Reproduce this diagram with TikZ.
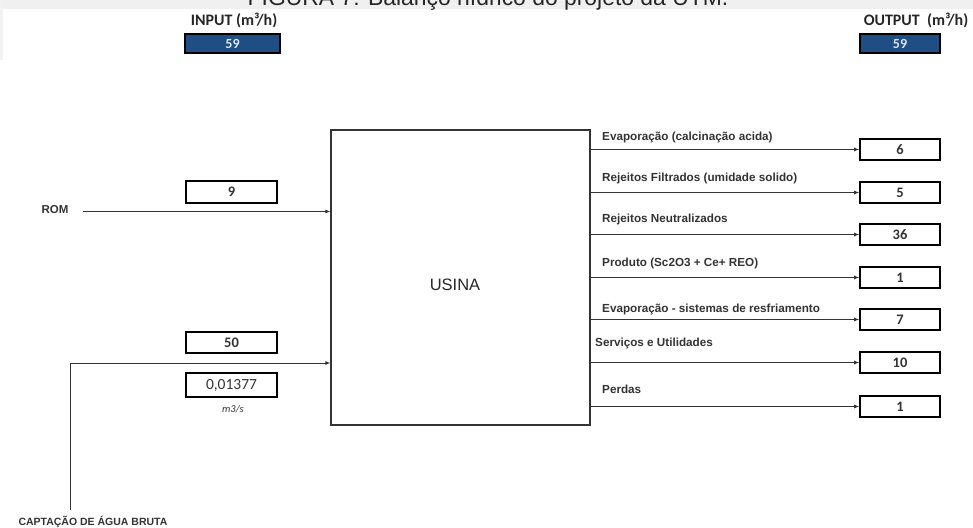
\documentclass[tikz,border=0pt]{standalone}
\usepackage{fontspec}
\setmainfont{Liberation Sans}
\newfontfamily\calib{Carlito}
\usetikzlibrary{arrows.meta}
\definecolor{navyfill}{HTML}{1F4E85}
\definecolor{paletxt}{HTML}{DCE6F2}
\definecolor{linegray}{HTML}{333333}
\tikzset{
  valbox/.style={draw=black, line width=1.6pt, inner sep=0pt, minimum width=91pt, minimum height=22pt,
    font=\calib\bfseries\fontsize{14.5}{15}\selectfont, text=black!80},
  outbox/.style={valbox, minimum width=80pt, minimum height=21pt},
  headbox/.style={draw=black, line width=1.5pt, fill=navyfill, inner sep=0pt, minimum height=19pt,
    font=\calib\bfseries\fontsize{14}{14}\selectfont, text=paletxt},
  headlab/.style={font=\calib\bfseries\fontsize{16}{16}\selectfont, text=black!85, inner sep=0pt},
  flowlab/.style={anchor=base west, inner sep=0pt, font=\bfseries\fontsize{11.7}{12}\selectfont, text=black!80},
  sidelab/.style={inner sep=0pt, font=\bfseries\fontsize{10.5}{11}\selectfont, text=black!80},
  arr/.style={draw=linegray, line width=0.9pt, -{Latex[length=5pt,width=4pt]}},
}
\begin{document}
\begin{tikzpicture}[x=1pt,y=-1pt]
\useasboundingbox (0,0) rectangle (973,527);
\begin{scope}
\clip (0,0) rectangle (973,527);
\fill[gray!12] (0,0) rectangle (973,9);
\fill[gray!10] (0,0) rectangle (3,60);
\node[anchor=base, inner sep=0pt, font=\fontsize{22.9}{24}\selectfont, text=black!85] (cap) at (488,5.5) {FIGURA 7: Balanço hídrico do projeto da UTM.};
\end{scope}

% headers
\node[headlab] (inlab) at (234,20) {INPUT (m³/h)};
\node[headbox, minimum width=95pt] (intot) at (232.5,43.5) {59};
\node[headlab] (outlab) at (916,20) {OUTPUT\ \ (m³/h)};
\node[headbox, minimum width=80pt] (outtot) at (900,43.5) {59};

% main box
\node[draw=black!80, line width=1.2pt, minimum width=259pt, minimum height=295pt, inner sep=0pt] (usina) at (460.5,277.5) {};
\node[inner sep=0pt, font=\fontsize{16.5}{17}\selectfont, text=black!85] (usinatxt) at (455,285) {USINA};

% inputs
\node[valbox] (b9) at (231.5,192) {9};
\node[valbox, minimum height=21pt] (b50) at (231.5,342.5) {50};
\node[valbox, minimum height=24pt, font=\calib\fontsize{15.5}{16}\selectfont] (bq) at (231.5,385) {0,01377};
\node[inner sep=0pt, font=\calib\itshape\fontsize{10.5}{11}\selectfont, text=black!80] (unit) at (233,409) {m3/s};

\node[sidelab, font=\bfseries\fontsize{11.5}{12}\selectfont] (rom) at (55,210) {ROM};
\coordinate (romstart) at (83,211.5);
\draw[arr] (romstart) -- (romstart -| usina.west);

\node[sidelab] (capt) at (93,521.5) {CAPTAÇÃO DE ÁGUA BRUTA};
\coordinate (wbot) at (70.7,510);
\coordinate (wcorner) at (70.7,363);
\draw[arr] (wbot) -- (wcorner) -- (wcorner -| usina.west);

% outputs
\node[outbox] (o1) at (900,149.5) {6};
\node[outbox] (o2) at (900,192.5) {5};
\node[outbox] (o3) at (900,234.5) {36};
\node[outbox] (o4) at (900,277.5) {1};
\node[outbox] (o5) at (900,319.5) {7};
\node[outbox] (o6) at (900,362.5) {10};
\node[outbox] (o7) at (900,406.5) {1};

\foreach \o in {o1,o2,o3,o4,o5,o6,o7}{
  \draw[arr] (usina.east |- \o.west) -- (\o.west);
}

\node[flowlab] (l1) at (602,140.5) {Evaporação (calcinação acida)};
\node[flowlab] (l2) at (602,181.5) {Rejeitos Filtrados (umidade solido)};
\node[flowlab] (l3) at (602,222.5) {Rejeitos Neutralizados};
\node[flowlab] (l4) at (602,266.5) {Produto (Sc2O3 + Ce+ REO)};
\node[flowlab] (l5) at (602,312.5) {Evaporação - sistemas de resfriamento};
\node[flowlab] (l6) at (595,346.5) {Serviços e Utilidades};
\node[flowlab] (l7) at (602,393.5) {Perdas};
\end{tikzpicture}
\end{document}
